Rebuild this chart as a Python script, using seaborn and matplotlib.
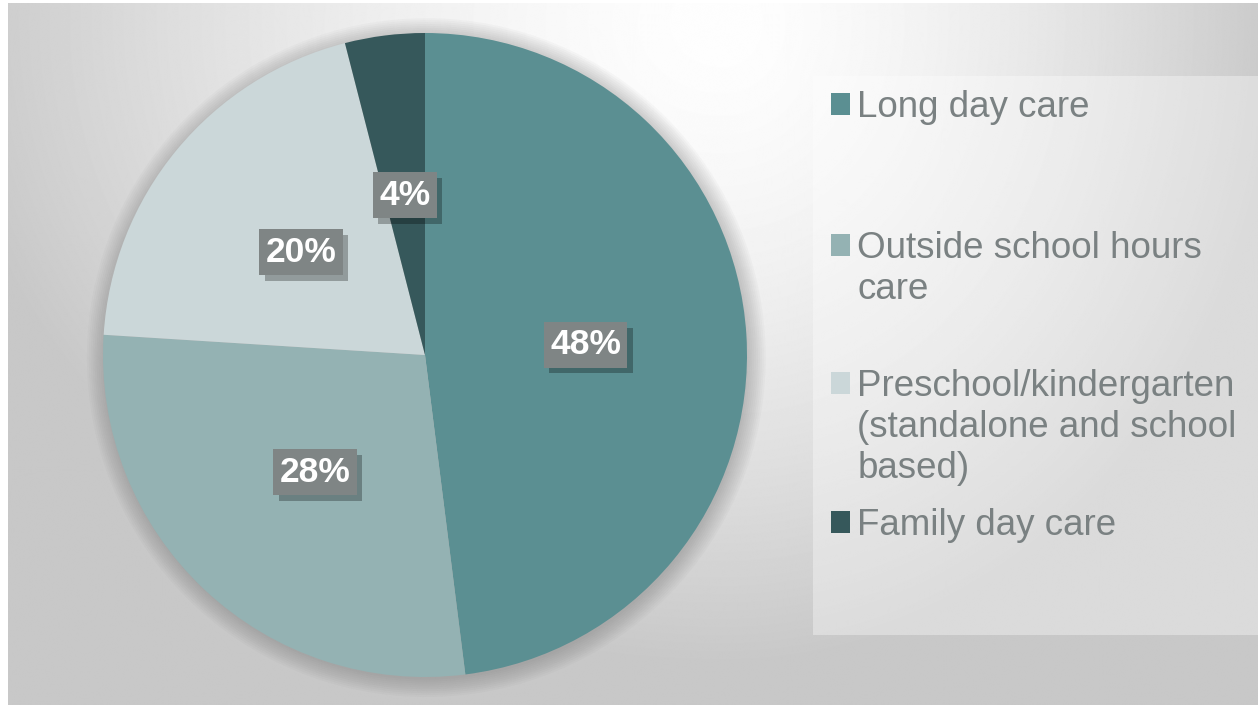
import matplotlib.pyplot as plt
import matplotlib.patheffects as pe
import numpy as np
import seaborn as sns
from matplotlib.patches import Circle, Patch, Rectangle

categories = ['Long day care', 'Outside school hours care',
              'Preschool/kindergarten (standalone and school based)', 'Family day care']
legend_lines = [['Long day care'],
                ['Outside school hours', 'care'],
                ['Preschool/kindergarten', '(standalone and school', 'based)'],
                ['Family day care']]
shares = [48, 28, 20, 4]
colors = ['#5b8f92', '#94b2b3', '#cbd7d9', '#36585b']

sns.set_theme(style='white')
plt.rcParams['font.family'] = ['Liberation Sans', 'DejaVu Sans']

W, H = 1258, 705
fig = plt.figure(figsize=(W / 100, H / 100), dpi=100)
fig.patch.set_facecolor('white')

# grey backdrop, near white at the top middle, darker towards the sides and bottom
bg = fig.add_axes([8 / W, 0, 1 - 8 / W, 1 - 3 / H])
yy, xx = np.mgrid[0:H, 0:W]
sx = np.where(xx < 720, 780, 560)
r = np.clip(np.hypot((xx - 720) / sx, (yy - 20) / 640), 0, 1)
shade = (254 - 54 * r ** 1.5) / 255
bg.imshow(shade, cmap='gray', vmin=0, vmax=1, aspect='auto', extent=(0, 1, 0, 1))
bg.axis('off')
bg.add_patch(Rectangle((813 / W, 1 - 635 / H), (W - 813) / W, (635 - 76) / H,
                       transform=fig.transFigure, facecolor='white', alpha=0.35,
                       lw=0, clip_on=False))

# pie
R = 322
ax = fig.add_axes([(425 - R) / W, (H - 355 - R) / H, 2 * R / W, 2 * R / H])
for k in range(10):
    ax.add_patch(Circle((0.004, -0.008), 1 + 0.006 * k, color='#606060',
                        alpha=0.035, lw=0, zorder=0, clip_on=False))
wedges, _, pcts = ax.pie(
    shares,
    colors=colors,
    startangle=90,
    counterclock=False,
    autopct='%.0f%%',
    pctdistance=0.5,
    wedgeprops=dict(linewidth=0),
    textprops=dict(color='white', fontsize=25.5, fontweight='bold'),
)
ax.set_xlim(-1, 1)
ax.set_ylim(-1, 1)
for t in pcts:
    t.set_bbox(dict(boxstyle='square,pad=0.18', facecolor='#7f8585', edgecolor='none'))
    t.get_bbox_patch().set_path_effects([
        pe.SimplePatchShadow(offset=(4, -4), shadow_rgbFace='black', alpha=0.28),
        pe.Normal(),
    ])

# legend, one block per category so the spacing follows the original
cap_y = [104, 245, 383, 522]
for lines, col, y in zip(legend_lines, colors, cap_y):
    handles = [Patch(facecolor=col, edgecolor='none')]
    handles += [Patch(facecolor='none', edgecolor='none') for _ in lines[1:]]
    fig.legend(
        handles=handles,
        labels=lines,
        loc='upper left',
        bbox_to_anchor=(831 / W, 1 - (y - 14) / H),
        frameon=False,
        fontsize=26.5,
        handlelength=0.52,
        handleheight=0.52,
        handletextpad=0.19,
        labelspacing=0.165,
        borderpad=0,
        borderaxespad=0,
        labelcolor='#7a8182',
    )

fig.savefig('out.png', dpi=100)
